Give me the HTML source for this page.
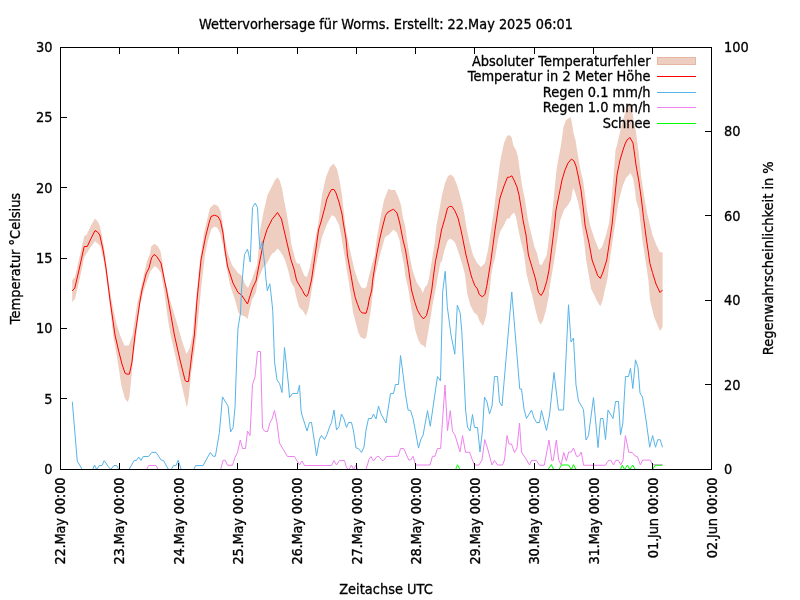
<!DOCTYPE html><html><head><meta charset="utf-8"><title>Wettervorhersage Worms</title>
<style>html,body{margin:0;padding:0;background:#fff;width:800px;height:600px;overflow:hidden}svg{display:block}text{font-family:"DejaVu Sans","Liberation Sans",sans-serif;font-size:13px;fill:#000;stroke:#000;stroke-width:0.3px}</style></head><body>
<svg width="800" height="600" viewBox="0 0 800 600">
<rect x="0" y="0" width="800" height="600" fill="#fff"/>
<polygon points="72.20,280.00 75.00,277.00 84.40,235.40 86.25,235.60 91.25,225.00 95.00,218.50 98.10,221.90 100.00,226.25 101.90,235.00 105.00,253.75 107.50,275.00 111.50,300.00 116.00,322.00 120.00,335.00 124.40,345.60 128.75,345.60 132.50,335.00 137.00,305.00 140.50,290.00 147.00,261.00 150.00,254.00 151.00,247.00 154.00,243.80 157.50,246.00 160.50,251.00 162.00,260.00 165.00,280.00 167.50,290.00 170.00,300.00 177.50,325.00 182.50,342.50 186.60,354.00 190.00,347.50 192.50,335.00 196.00,300.00 200.00,260.00 204.00,233.00 207.00,220.00 210.00,208.00 214.00,204.20 218.00,206.00 220.50,211.00 222.50,222.00 225.00,240.00 228.00,254.00 232.00,265.00 238.00,273.00 242.00,276.00 245.00,284.00 248.00,288.00 252.00,279.00 257.00,265.00 258.50,250.00 260.00,230.00 264.00,210.00 267.50,195.00 271.00,188.00 274.50,181.00 277.20,177.20 279.50,180.00 282.00,188.00 284.00,200.00 286.00,210.00 289.50,230.00 291.50,245.00 295.50,260.00 297.00,263.50 299.50,263.50 302.00,270.00 304.50,276.00 306.80,277.00 310.00,267.00 314.00,245.00 318.00,225.00 322.00,195.00 326.00,177.00 330.00,167.00 333.50,163.50 337.00,169.00 339.50,180.00 342.00,195.00 343.00,205.00 346.00,230.00 350.00,250.00 354.50,270.00 358.25,281.25 361.25,287.25 364.60,288.40 366.50,286.50 369.50,273.75 372.50,262.50 374.75,255.00 376.50,240.00 380.00,220.00 384.00,200.00 388.50,188.80 391.00,190.00 395.00,190.00 398.00,196.00 401.00,205.00 403.00,218.00 405.00,225.00 406.00,232.00 407.00,240.00 409.25,253.75 412.25,268.75 414.10,275.00 416.75,282.50 419.00,286.25 420.90,288.50 422.75,293.00 425.00,287.00 427.25,284.75 428.75,279.50 429.50,275.00 431.75,261.25 434.75,242.50 436.50,225.00 439.00,212.00 442.00,195.00 445.00,183.00 448.00,176.00 451.00,174.50 454.00,177.50 457.00,185.00 460.00,195.00 462.50,205.00 464.50,215.00 466.00,225.00 469.00,240.00 473.00,255.00 477.00,263.00 481.00,267.00 485.00,263.00 488.00,250.00 491.00,230.00 494.00,210.00 497.00,185.00 500.00,163.00 501.00,157.00 504.00,143.00 507.00,136.00 509.00,135.00 511.50,137.00 513.50,146.00 516.00,150.00 518.00,157.00 519.00,165.00 522.00,185.00 525.00,200.00 528.00,220.00 531.00,233.00 534.50,247.00 537.00,253.00 539.60,264.00 541.10,265.50 543.00,262.50 546.75,255.00 550.00,230.00 552.50,210.00 554.50,190.00 556.50,170.00 558.50,158.00 561.00,145.00 563.50,127.00 566.00,120.00 570.50,117.00 572.00,123.00 573.50,133.00 575.50,140.00 577.50,153.00 580.50,170.00 583.00,180.00 585.00,195.00 587.00,210.00 590.00,225.00 595.00,240.00 599.00,250.00 602.00,247.00 606.00,235.00 609.00,223.00 611.00,205.00 614.00,170.00 615.50,150.00 617.00,145.00 620.00,132.00 623.00,120.00 626.00,110.00 629.00,102.50 632.00,110.00 634.00,122.00 636.00,132.00 637.00,140.00 639.00,155.00 641.00,175.00 643.90,195.00 647.25,213.75 652.50,235.00 656.25,244.75 660.00,252.25 662.60,252.25 662.60,327.00 660.00,331.00 654.00,317.00 650.00,300.00 648.40,280.00 645.00,257.50 642.40,240.00 639.00,210.00 636.00,200.00 635.00,190.00 633.00,178.00 630.50,173.00 626.00,178.00 623.00,185.00 619.00,200.00 618.00,205.00 615.00,225.00 612.00,245.00 609.75,260.00 607.50,278.75 604.50,291.50 602.75,300.00 601.50,303.50 600.25,306.25 598.50,303.50 596.50,300.00 594.25,295.00 591.00,288.50 588.75,275.00 586.10,260.00 584.00,240.00 581.00,220.00 580.00,212.00 578.00,202.00 575.00,192.00 573.00,188.00 571.00,200.00 568.00,205.00 564.00,210.00 560.00,221.00 557.50,238.00 555.00,255.00 552.00,273.75 549.00,291.00 549.00,295.00 546.00,310.00 543.00,320.50 540.75,324.60 538.50,321.25 535.50,310.00 532.10,295.00 530.25,288.75 526.50,273.75 524.00,254.00 521.00,242.00 518.00,228.00 516.00,217.00 514.00,212.50 511.00,215.50 509.50,218.50 507.00,218.50 504.00,225.00 500.00,232.00 498.00,240.00 495.00,258.00 493.00,265.00 491.25,275.00 489.75,290.00 487.50,305.00 486.40,315.00 485.00,320.00 483.00,326.25 479.50,321.00 477.25,315.00 474.00,312.50 470.25,305.00 467.25,293.75 465.00,275.00 463.00,267.00 460.00,257.00 457.00,248.00 455.00,242.50 452.50,240.00 451.00,239.00 449.50,239.00 447.50,241.00 444.50,250.00 442.00,261.00 440.40,262.75 438.10,275.00 435.50,290.00 432.50,305.00 431.00,315.00 429.10,326.25 427.25,337.50 425.40,348.00 422.75,345.00 420.90,344.60 418.25,339.75 415.25,330.00 412.60,315.00 410.75,305.00 408.50,290.00 405.10,275.00 404.00,265.00 401.00,250.00 399.50,240.00 397.00,233.00 393.50,229.50 389.00,234.50 385.00,237.00 380.00,255.00 375.50,273.75 373.25,290.00 371.00,308.75 368.00,327.50 367.25,332.50 366.10,338.00 364.25,338.90 360.50,337.00 358.25,332.50 356.75,326.00 353.00,312.50 351.50,300.00 349.25,285.00 344.40,255.00 341.00,235.00 339.00,225.00 335.00,217.00 332.00,215.00 327.00,224.00 322.00,237.00 318.00,255.00 316.00,265.00 313.40,280.00 312.25,286.00 310.40,298.75 308.50,308.50 305.90,316.00 302.50,310.00 301.00,309.25 298.75,306.25 295.75,295.00 294.30,287.50 294.20,287.50 290.80,281.70 288.30,270.80 285.00,260.00 282.50,255.00 279.20,250.00 277.50,248.50 275.00,251.70 271.70,254.00 269.20,259.00 265.80,265.00 263.00,268.00 258.00,280.00 256.00,292.00 252.00,300.00 249.50,310.00 247.50,319.00 245.00,316.50 242.00,315.50 238.50,313.00 235.00,300.00 230.00,285.00 227.00,270.00 225.50,260.00 223.00,245.00 220.00,233.00 217.50,228.00 214.50,226.50 211.50,229.00 208.00,240.00 205.00,255.00 202.00,280.00 198.00,320.00 195.00,347.50 191.25,372.50 188.75,397.50 186.90,407.50 182.50,388.75 176.25,360.00 170.60,335.00 168.00,320.00 164.00,290.00 161.00,273.00 157.50,268.00 154.50,266.00 150.00,272.00 144.00,290.00 140.00,305.00 136.25,335.00 133.75,353.75 131.25,378.75 129.40,397.50 127.75,401.90 125.00,398.75 121.25,385.00 117.50,360.00 113.10,335.00 111.00,315.00 108.00,290.00 104.00,262.00 100.00,245.60 95.00,241.25 88.75,250.00 84.40,256.90 79.00,282.00 75.00,299.00 72.20,302.00" fill="#eecec0" stroke="none"/>
<polyline points="72.20,291.00 74.80,288.00 79.00,270.00 84.20,246.50 87.25,246.50 91.00,238.50 95.00,230.60 97.50,231.90 99.75,235.00 103.10,250.00 106.00,268.00 110.00,300.00 115.00,335.00 118.75,351.25 121.90,363.75 125.00,373.10 126.90,374.10 129.40,374.10 131.90,362.50 135.00,335.00 140.00,301.00 142.00,290.00 146.00,274.00 149.00,268.00 151.50,258.00 154.00,254.50 156.50,256.20 161.00,263.00 164.00,278.00 166.50,290.00 174.40,335.00 180.00,360.00 185.00,380.00 186.00,381.50 188.50,381.50 191.90,353.75 194.40,335.00 197.00,300.00 201.00,260.00 205.50,237.00 209.00,223.00 211.00,216.50 214.50,215.20 218.00,216.50 220.50,221.00 223.00,233.00 225.00,250.00 227.50,266.00 233.00,283.00 238.00,292.50 241.50,295.00 247.50,304.00 252.50,288.00 256.00,281.00 259.00,265.00 262.00,250.00 263.50,241.00 267.00,229.50 272.00,219.50 277.50,212.50 281.50,219.00 284.00,230.00 287.50,245.00 291.00,260.00 294.00,269.00 296.50,280.00 298.00,283.00 301.00,288.00 302.50,290.50 304.75,295.00 306.60,296.50 308.30,293.50 311.50,280.00 316.50,245.00 318.50,230.00 321.00,222.00 325.50,205.00 326.50,200.00 329.50,193.00 331.50,189.50 334.00,189.50 336.00,193.00 339.00,202.00 342.00,214.00 343.00,221.00 346.00,239.00 347.40,255.00 350.75,273.75 353.20,288.00 355.25,297.50 357.50,304.25 359.75,310.25 362.00,312.90 366.10,313.25 368.00,306.50 369.10,300.00 371.75,290.00 372.50,281.25 376.60,255.00 379.50,240.00 382.50,227.00 385.50,215.50 388.00,212.00 393.50,209.20 397.00,213.00 399.50,222.00 403.00,240.00 405.50,250.00 408.50,268.75 411.50,290.00 414.50,301.25 417.50,310.25 420.50,315.50 423.50,318.90 426.50,315.50 428.75,306.50 431.75,290.00 433.60,275.00 435.50,261.25 438.50,246.25 441.50,230.00 445.00,218.00 447.50,208.00 449.50,206.50 452.00,206.50 455.00,211.00 458.00,218.00 461.00,230.00 466.00,255.00 471.00,275.00 472.50,279.50 474.75,285.50 477.40,288.90 479.25,294.50 482.25,296.75 484.90,294.50 486.75,286.25 488.60,275.00 491.00,260.00 495.00,230.00 498.00,210.00 500.00,198.00 504.00,186.00 507.50,177.20 509.50,177.20 511.80,175.80 514.00,180.00 517.00,187.00 519.00,195.00 521.50,210.00 523.00,220.00 526.00,235.00 528.40,255.00 531.75,266.25 535.50,279.00 538.50,292.50 541.10,295.50 543.75,291.00 546.75,281.25 549.00,270.00 550.90,255.00 554.00,230.00 556.00,210.00 559.00,195.00 562.00,180.00 565.00,170.00 568.00,163.00 571.50,159.00 574.00,161.00 576.00,166.00 578.00,175.00 581.00,190.00 583.50,210.00 585.00,225.00 589.00,243.00 592.10,260.00 594.75,267.50 597.75,275.75 600.40,278.40 603.00,272.00 606.75,260.00 609.00,245.00 612.00,225.00 614.00,205.00 617.00,175.00 620.00,160.00 623.00,150.00 625.00,144.00 627.00,140.00 630.00,137.50 633.00,143.00 634.00,150.00 636.00,165.00 639.00,182.00 641.50,200.00 643.50,217.50 646.50,240.00 648.00,250.00 649.90,263.50 652.50,272.50 654.75,280.00 656.00,284.00 660.00,292.50 662.50,290.00" fill="none" stroke="#ff0000" stroke-width="1" stroke-linejoin="round"/>
<polyline points="72.30,401.70 77.25,461.00 82.20,469.50 92.70,469.50 94.50,465.00 96.70,469.50 99.30,465.50 102.00,465.50 104.20,460.70 108.00,466.20 110.70,469.50 114.00,465.50 116.70,465.50 118.80,469.50 129.00,469.50 134.20,460.50 136.50,460.50 138.70,457.00 141.00,460.50 143.20,456.50 148.50,456.50 151.80,452.40 156.00,452.40 161.25,460.00 163.50,460.60 168.50,469.50 171.25,469.50 173.50,465.60 176.00,465.60 178.10,460.25 181.25,469.50 193.75,469.50 195.60,465.60 203.10,465.60 210.25,452.50 213.10,456.25 215.40,456.25 219.40,432.50 222.50,396.90 228.10,406.25 230.60,431.90 233.10,427.75 235.00,407.50 237.00,350.00 238.00,328.00 240.50,313.00 241.50,290.00 243.00,271.00 244.50,254.80 245.70,252.40 247.50,249.10 248.70,254.80 250.20,262.00 250.80,247.00 252.50,207.50 255.20,203.20 257.50,207.50 258.90,235.00 260.10,249.10 262.50,241.30 263.00,250.00 265.00,266.70 265.80,277.50 267.30,290.80 269.80,283.75 271.70,300.00 272.80,311.70 274.50,361.70 277.00,380.00 279.50,383.30 282.00,392.50 284.50,347.50 288.50,385.00 289.50,397.50 292.50,393.50 297.50,393.50 299.50,385.00 301.00,410.00 302.00,415.00 307.00,431.00 309.50,422.50 311.50,422.50 315.00,445.00 316.50,456.00 319.50,439.00 321.50,435.50 324.50,439.50 327.00,434.50 329.50,427.00 331.50,422.50 334.00,410.00 336.50,430.00 339.00,426.50 341.50,414.00 344.00,419.00 346.50,427.50 348.50,422.50 351.50,422.50 353.50,431.00 356.00,448.00 358.50,448.50 361.50,452.50 364.00,447.00 366.00,430.00 368.50,418.50 371.50,418.50 373.50,414.00 376.00,419.00 378.50,406.00 381.00,414.00 386.00,423.00 390.50,393.50 393.50,393.50 395.50,384.50 398.50,384.50 400.50,355.50 402.50,370.00 405.60,395.00 408.10,410.00 410.60,410.60 413.10,418.75 415.00,428.75 418.50,448.10 420.60,440.00 423.10,435.00 427.50,410.60 430.25,426.25 434.50,397.00 437.50,376.50 440.50,381.00 442.70,291.70 445.20,271.30 447.30,306.70 451.00,335.00 454.80,354.20 457.30,305.00 460.20,313.30 461.80,331.70 463.50,365.00 465.60,410.00 467.50,427.00 470.00,431.00 472.50,414.50 474.50,427.50 477.50,427.50 480.00,452.00 482.50,430.00 484.50,397.00 487.00,402.00 489.50,414.00 492.00,406.00 494.50,376.50 497.50,376.50 499.50,402.00 502.00,406.00 511.75,292.00 519.75,389.00 521.50,389.00 524.00,409.00 526.50,418.50 531.50,410.00 534.00,418.00 536.50,422.50 539.50,422.50 541.50,410.50 546.50,430.50 549.50,415.00 554.00,372.50 558.50,410.00 563.50,410.00 568.50,304.80 571.00,342.00 573.50,338.00 576.00,385.00 578.50,401.00 583.50,409.50 586.00,440.00 588.50,435.50 593.50,397.50 598.00,447.50 600.50,418.50 603.00,418.50 605.50,439.50 608.00,410.00 613.00,418.50 615.50,401.50 618.50,401.50 620.50,435.00 622.80,423.30 625.50,376.50 628.50,376.50 630.50,368.20 632.80,388.50 635.50,359.80 638.00,367.50 640.00,393.00 642.50,397.00 646.20,421.00 649.70,447.25 652.60,435.60 655.50,447.25 657.80,439.70 660.20,439.70 662.50,447.25" fill="none" stroke="#56b4e9" stroke-width="1" stroke-linejoin="round"/>
<polyline points="72.30,469.50 146.50,469.50 148.80,465.50 156.00,465.50 158.20,469.50 220.60,469.50 223.10,460.25 225.25,460.25 227.50,465.25 232.50,465.25 235.00,457.50 237.50,452.50 240.25,440.00 242.50,448.50 245.50,448.50 247.50,431.00 250.00,435.50 252.50,384.50 255.00,377.00 257.50,351.50 260.50,351.50 262.50,428.00 265.00,431.50 267.50,431.50 270.00,422.50 272.00,419.00 274.50,410.50 277.00,423.00 279.50,443.00 283.00,449.00 287.50,456.50 294.50,456.50 299.50,465.00 302.00,461.00 304.50,465.50 331.50,465.50 334.00,460.50 336.50,465.00 339.50,460.50 344.50,460.50 346.50,468.00 349.00,469.50 351.50,465.00 353.50,469.50 356.00,465.00 357.50,469.50 366.00,469.50 369.00,459.50 371.00,456.50 373.50,461.00 377.00,456.50 379.00,456.50 382.00,460.50 383.50,460.50 386.50,456.50 398.10,456.25 400.60,448.50 403.75,448.50 408.75,460.00 410.60,460.00 413.10,456.25 415.60,465.00 430.00,465.00 432.50,456.25 435.00,456.25 437.50,448.50 440.60,448.50 445.00,385.00 447.50,430.60 450.25,410.60 452.50,431.25 455.00,435.00 460.00,451.90 462.50,435.60 465.60,452.50 469.50,452.00 472.00,459.00 474.50,465.00 479.00,465.00 482.00,460.00 484.75,439.50 488.00,450.00 492.00,465.00 494.50,460.50 497.50,465.00 502.50,465.00 504.50,460.00 507.00,435.50 509.00,444.00 511.50,444.00 514.50,452.50 517.00,448.00 519.50,423.00 521.50,452.00 526.00,459.00 529.50,465.00 531.50,460.40 536.40,460.40 539.40,465.25 544.25,465.25 549.00,440.00 551.75,460.40 553.25,460.40 556.30,440.00 558.70,460.00 561.10,464.90 563.75,452.50 566.40,461.10 568.60,452.10 571.25,452.10 573.50,448.00 576.50,456.25 578.75,456.25 581.30,452.10 583.60,465.25 605.25,465.25 608.60,460.40 610.90,460.40 613.50,464.90 615.75,460.40 618.40,460.40 620.80,464.90 623.00,460.50 625.40,435.60 628.80,452.30 632.20,452.50 635.10,456.00 637.40,456.60 640.30,464.75 642.70,460.10 650.25,460.10 652.60,464.75 662.50,464.75" fill="none" stroke="#ee82ee" stroke-width="1" stroke-linejoin="round"/>
<polyline points="72.30,469.50 455.60,469.50 457.50,464.75 460.00,469.50 548.00,469.50 551.40,464.60 553.60,469.50 558.90,469.50 561.50,465.00 568.60,465.00 571.25,469.50 573.50,464.60 576.10,469.50 620.50,469.50 622.25,465.10 624.60,469.50 627.50,465.10 629.80,469.50 632.75,465.10 635.10,469.50 652.60,469.50 655.00,465.30 662.50,465.30" fill="none" stroke="#00ff00" stroke-width="1" stroke-linejoin="round"/>
<g stroke="#000" stroke-width="1" fill="none" shape-rendering="crispEdges">
<rect x="60.5" y="47.5" width="651" height="422"/>
<line x1="60" y1="469.5" x2="67" y2="469.5"/>
<line x1="60" y1="398.5" x2="67" y2="398.5"/>
<line x1="60" y1="328.5" x2="67" y2="328.5"/>
<line x1="60" y1="258.5" x2="67" y2="258.5"/>
<line x1="60" y1="187.5" x2="67" y2="187.5"/>
<line x1="60" y1="117.5" x2="67" y2="117.5"/>
<line x1="60" y1="47.5" x2="67" y2="47.5"/>
<line x1="712" y1="469.5" x2="705" y2="469.5"/>
<line x1="712" y1="384.5" x2="705" y2="384.5"/>
<line x1="712" y1="300.5" x2="705" y2="300.5"/>
<line x1="712" y1="215.5" x2="705" y2="215.5"/>
<line x1="712" y1="131.5" x2="705" y2="131.5"/>
<line x1="712" y1="47.5" x2="705" y2="47.5"/>
<line x1="60.5" y1="470" x2="60.5" y2="463"/>
<line x1="60.5" y1="47" x2="60.5" y2="54"/>
<line x1="119.5" y1="470" x2="119.5" y2="463"/>
<line x1="119.5" y1="47" x2="119.5" y2="54"/>
<line x1="178.5" y1="470" x2="178.5" y2="463"/>
<line x1="178.5" y1="47" x2="178.5" y2="54"/>
<line x1="237.5" y1="470" x2="237.5" y2="463"/>
<line x1="237.5" y1="47" x2="237.5" y2="54"/>
<line x1="297.5" y1="470" x2="297.5" y2="463"/>
<line x1="297.5" y1="47" x2="297.5" y2="54"/>
<line x1="356.5" y1="470" x2="356.5" y2="463"/>
<line x1="356.5" y1="47" x2="356.5" y2="54"/>
<line x1="415.5" y1="470" x2="415.5" y2="463"/>
<line x1="415.5" y1="47" x2="415.5" y2="54"/>
<line x1="474.5" y1="470" x2="474.5" y2="463"/>
<line x1="474.5" y1="47" x2="474.5" y2="54"/>
<line x1="534.5" y1="470" x2="534.5" y2="463"/>
<line x1="534.5" y1="47" x2="534.5" y2="54"/>
<line x1="593.5" y1="470" x2="593.5" y2="463"/>
<line x1="593.5" y1="47" x2="593.5" y2="54"/>
<line x1="652.5" y1="470" x2="652.5" y2="463"/>
<line x1="652.5" y1="47" x2="652.5" y2="54"/>
<line x1="711.5" y1="470" x2="711.5" y2="463"/>
<line x1="711.5" y1="47" x2="711.5" y2="54"/>
</g>
<text transform="translate(386.00,29.00) scale(1,1.1)" text-anchor="middle" textLength="374" lengthAdjust="spacingAndGlyphs">Wettervorhersage für Worms. Erstellt: 22.May 2025 06:01</text>
<text transform="translate(52.50,474.00) scale(1,1.1)" text-anchor="end">0</text>
<text transform="translate(52.50,403.67) scale(1,1.1)" text-anchor="end">5</text>
<text transform="translate(52.50,333.33) scale(1,1.1)" text-anchor="end">10</text>
<text transform="translate(52.50,263.00) scale(1,1.1)" text-anchor="end">15</text>
<text transform="translate(52.50,192.67) scale(1,1.1)" text-anchor="end">20</text>
<text transform="translate(52.50,122.33) scale(1,1.1)" text-anchor="end">25</text>
<text transform="translate(52.50,52.00) scale(1,1.1)" text-anchor="end">30</text>
<text transform="translate(724.00,474.00) scale(1,1.1)">0</text>
<text transform="translate(724.00,389.60) scale(1,1.1)">20</text>
<text transform="translate(724.00,305.20) scale(1,1.1)">40</text>
<text transform="translate(724.00,220.80) scale(1,1.1)">60</text>
<text transform="translate(724.00,136.40) scale(1,1.1)">80</text>
<text transform="translate(724.00,52.00) scale(1,1.1)">100</text>
<text transform="translate(65.20,477.40) rotate(-90) scale(1,1.1)" text-anchor="end" textLength="87.2">22.May 00:00</text>
<text transform="translate(124.47,477.40) rotate(-90) scale(1,1.1)" text-anchor="end" textLength="87.2">23.May 00:00</text>
<text transform="translate(183.74,477.40) rotate(-90) scale(1,1.1)" text-anchor="end" textLength="87.2">24.May 00:00</text>
<text transform="translate(243.01,477.40) rotate(-90) scale(1,1.1)" text-anchor="end" textLength="87.2">25.May 00:00</text>
<text transform="translate(302.28,477.40) rotate(-90) scale(1,1.1)" text-anchor="end" textLength="87.2">26.May 00:00</text>
<text transform="translate(361.55,477.40) rotate(-90) scale(1,1.1)" text-anchor="end" textLength="87.2">27.May 00:00</text>
<text transform="translate(420.82,477.40) rotate(-90) scale(1,1.1)" text-anchor="end" textLength="87.2">28.May 00:00</text>
<text transform="translate(480.09,477.40) rotate(-90) scale(1,1.1)" text-anchor="end" textLength="87.2">29.May 00:00</text>
<text transform="translate(539.36,477.40) rotate(-90) scale(1,1.1)" text-anchor="end" textLength="87.2">30.May 00:00</text>
<text transform="translate(598.63,477.40) rotate(-90) scale(1,1.1)" text-anchor="end" textLength="87.2">31.May 00:00</text>
<text transform="translate(657.90,477.40) rotate(-90) scale(1,1.1)" text-anchor="end" textLength="80.8">01.Jun 00:00</text>
<text transform="translate(717.17,477.40) rotate(-90) scale(1,1.1)" text-anchor="end" textLength="80.8">02.Jun 00:00</text>
<text transform="translate(19.50,258.50) rotate(-90) scale(1,1.1)" text-anchor="middle">Temperatur °Celsius</text>
<text transform="translate(772.80,258.20) rotate(-90) scale(1,1.1)" text-anchor="middle">Regenwahrscheinlichkeit in %</text>
<text transform="translate(386.00,593.50) scale(1,1.1)" text-anchor="middle">Zeitachse UTC</text>
<text transform="translate(650.50,65.75) scale(1,1.1)" text-anchor="end">Absoluter Temperaturfehler</text>
<text transform="translate(650.50,81.25) scale(1,1.1)" text-anchor="end">Temperatur in 2 Meter Höhe</text>
<text transform="translate(650.50,96.75) scale(1,1.1)" text-anchor="end">Regen 0.1 mm/h</text>
<text transform="translate(650.50,112.25) scale(1,1.1)" text-anchor="end">Regen 1.0 mm/h</text>
<text transform="translate(650.50,127.75) scale(1,1.1)" text-anchor="end">Schnee</text>
<rect x="657.5" y="57.5" width="38" height="7" fill="#eecec0" stroke="#e6b8a2" stroke-width="1"/>
<line x1="657" y1="76.50" x2="696" y2="76.50" stroke="#ff0000" stroke-width="1"/>
<line x1="657" y1="92.50" x2="696" y2="92.50" stroke="#56b4e9" stroke-width="1"/>
<line x1="657" y1="107.50" x2="696" y2="107.50" stroke="#ee82ee" stroke-width="1"/>
<line x1="657" y1="123.50" x2="696" y2="123.50" stroke="#00ff00" stroke-width="1"/>
</svg></body></html>
